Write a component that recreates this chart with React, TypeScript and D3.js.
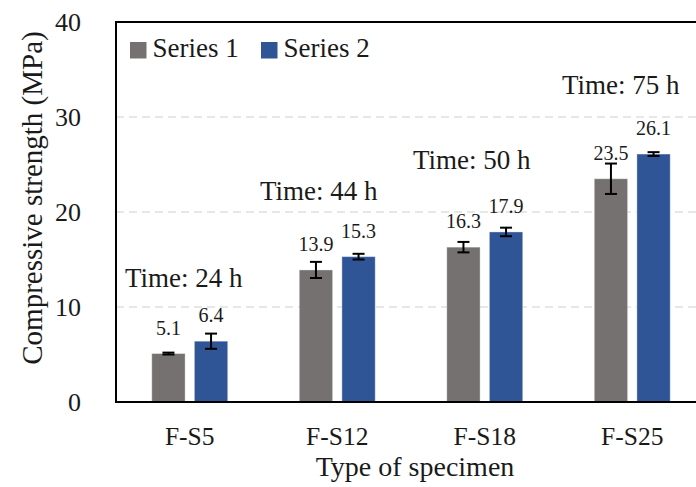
import React from "react";
import * as d3 from "d3";

// Compressive strength per specimen type, two test series
const categories = ["F-S5", "F-S12", "F-S18", "F-S25"];
const seriesNames = ["Series 1", "Series 2"];
const series1 = [5.1, 13.9, 16.3, 23.5];
const series2 = [6.4, 15.3, 17.9, 26.1];
const series1Err = [0.1, 0.85, 0.55, 1.6];
const series2Err = [0.8, 0.3, 0.45, 0.2];
const yTicks = [0, 10, 20, 30, 40];

// Curing time notes, placed at a strength level above each group
const timeLabels = ["Time: 24 h", "Time: 44 h", "Time: 50 h", "Time: 75 h"];
const timeLevels = [12.1, 21.3, 24.5, 32.4];

const WIDTH = 696;
const HEIGHT = 487;
const FONT = "'Liberation Serif', 'Times New Roman', serif";
const COLORS = ["#767171", "#2F5597"];
const TEXT = "#1a1a1a";
const timeLabelDx = [9, -3.5, 2, 3.5];

const plot = { left: 116, right: 706, top: 22, bottom: 402 };

export default function App() {
  const x0 = d3
    .scaleBand<string>()
    .domain(categories)
    .range([plot.left, plot.right])
    .paddingInner(0)
    .paddingOuter(0);

  const x1 = d3
    .scaleBand<string>()
    .domain(seriesNames)
    .range([0, x0.bandwidth()])
    .paddingInner(0.218)
    .paddingOuter(0.84);

  const y = d3.scaleLinear().domain([0, 40]).range([plot.bottom, plot.top]);

  const values = [series1, series2];
  const errors = [series1Err, series2Err];
  const capHalf = 6;

  return (
    <svg
      width={WIDTH}
      height={HEIGHT}
      style={{ position: "absolute", left: 0, top: 0, background: "#fff" }}
      fontFamily={FONT}
    >
      <rect x={0} y={0} width={WIDTH} height={HEIGHT} fill="#fff" />

      {/* horizontal gridlines */}
      {yTicks
        .filter((t) => t > 0 && t < 40)
        .map((t) => (
          <line
            key={`g${t}`}
            x1={plot.left}
            x2={WIDTH}
            y1={y(t)}
            y2={y(t)}
            stroke="#d0d0d0"
            strokeWidth={1.2}
            strokeDasharray="8,5"
          />
        ))}

      {/* bars */}
      {categories.map((c, i) =>
        seriesNames.map((s, j) => {
          const v = values[j][i];
          const bx = (x0(c) ?? 0) + (x1(s) ?? 0);
          return (
            <rect
              key={`b${c}${s}`}
              x={bx}
              y={y(v)}
              width={x1.bandwidth()}
              height={y(0) - y(v)}
              fill={COLORS[j]}
              stroke="rgba(255,255,255,0.35)"
              strokeWidth={1}
            />
          );
        })
      )}

      {/* error bars */}
      {categories.map((c, i) =>
        seriesNames.map((s, j) => {
          const v = values[j][i];
          const e = errors[j][i];
          const cx = (x0(c) ?? 0) + (x1(s) ?? 0) + x1.bandwidth() / 2;
          return (
            <g key={`e${c}${s}`} stroke="#000" strokeWidth={2}>
              <line x1={cx} x2={cx} y1={y(v + e)} y2={y(v - e)} />
              <line x1={cx - capHalf} x2={cx + capHalf} y1={y(v + e)} y2={y(v + e)} />
              <line x1={cx - capHalf} x2={cx + capHalf} y1={y(v - e)} y2={y(v - e)} />
            </g>
          );
        })
      )}

      {/* value labels */}
      {categories.map((c, i) =>
        seriesNames.map((s, j) => {
          const v = values[j][i];
          const cx = (x0(c) ?? 0) + (x1(s) ?? 0) + x1.bandwidth() / 2;
          return (
            <text
              key={`v${c}${s}`}
              x={cx}
              y={y(v) - 19}
              textAnchor="middle"
              fontSize={20}
              fill={TEXT}
            >
              {v.toFixed(1)}
            </text>
          );
        })
      )}

      {/* curing time notes */}
      {categories.map((c, i) => (
        <text
          key={`t${c}`}
          x={(x0(c) ?? 0) + timeLabelDx[i]}
          y={y(timeLevels[i])}
          fontSize={27}
          fill={TEXT}
        >
          {timeLabels[i]}
        </text>
      ))}

      {/* frame: left axis, top border, baseline */}
      <line x1={plot.left} x2={plot.left} y1={plot.top} y2={plot.bottom} stroke="#000" strokeWidth={2} />
      <line x1={plot.left - 1} x2={WIDTH} y1={plot.top} y2={plot.top} stroke="#000" strokeWidth={2} />
      <line x1={plot.left - 1} x2={WIDTH} y1={plot.bottom} y2={plot.bottom} stroke="#000" strokeWidth={2.2} />

      {/* y tick labels */}
      {yTicks.map((t) => (
        <text
          key={`yt${t}`}
          x={81}
          y={y(t)}
          dy="0.34em"
          textAnchor="end"
          fontSize={26}
          fill={TEXT}
        >
          {t}
        </text>
      ))}

      {/* x tick labels */}
      {categories.map((c) => (
        <text
          key={`xt${c}`}
          x={(x0(c) ?? 0) + x0.bandwidth() / 2}
          y={445}
          textAnchor="middle"
          fontSize={25.5}
          fill={TEXT}
        >
          {c}
        </text>
      ))}

      {/* axis titles */}
      <text
        transform={`translate(41.5, 198) rotate(-90)`}
        textAnchor="middle"
        fontSize={29}
        fill={TEXT}
      >
        Compressive strength (MPa)
      </text>
      <text x={415} y={476} textAnchor="middle" fontSize={28} fill={TEXT}>
        Type of specimen
      </text>

      {/* legend */}
      {seriesNames.map((s, j) => {
        const lx = 130 + j * 131;
        return (
          <g key={`l${s}`}>
            <rect x={lx} y={42} width={16.5} height={16.5} fill={COLORS[j]} />
            <text x={lx + 22.5} y={57} fontSize={27} fill={TEXT}>
              {s}
            </text>
          </g>
        );
      })}
    </svg>
  );
}
